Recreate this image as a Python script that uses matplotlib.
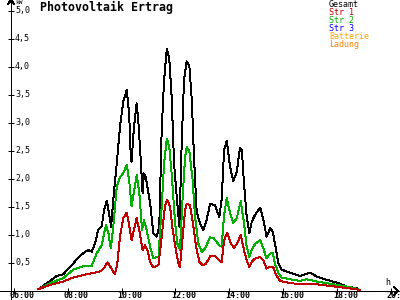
import matplotlib
matplotlib.use("Agg")
import matplotlib.pyplot as plt

# Stunden / Leistung in kW
h_gesamt = [6.90, 7.34, 7.59, 7.83, 8.20, 8.39, 8.64, 8.76, 8.89, 9.01, 9.13, 9.26, 9.35, 9.45,
            9.53, 9.61, 9.69, 9.82, 9.94, 10.06, 10.19, 10.28, 10.34, 10.37, 10.46, 10.56, 10.62,
            10.72, 10.78, 10.83, 10.90, 10.96, 11.06, 11.18, 11.30, 11.40, 11.49, 11.58, 11.68,
            11.77, 11.86, 11.95, 12.05, 12.15, 12.23, 12.32, 12.42, 12.52, 12.61, 12.69, 12.79,
            12.91, 13.04, 13.16, 13.29, 13.47, 13.63, 13.72, 13.81, 13.91, 14.03, 14.15, 14.28,
            14.40, 14.47, 14.55, 14.65, 14.75, 14.84, 14.96, 15.15, 15.27, 15.39, 15.52, 15.62,
            15.70, 15.83, 15.95, 16.26, 16.63, 16.82, 17.00, 17.25, 17.63, 18.00, 18.37, 18.74, 18.86]
kw_gesamt = [0.03, 0.18, 0.27, 0.30, 0.49, 0.60, 0.70, 0.73, 0.70, 0.85, 1.09, 1.15, 1.45, 1.61,
             1.39, 1.15, 1.63, 2.28, 2.93, 3.38, 3.59, 3.17, 2.40, 2.31, 2.93, 3.35, 3.05,
             2.28, 1.74, 2.10, 2.04, 1.86, 1.57, 1.03, 0.97, 1.15, 2.88, 3.77, 4.33,
             4.16, 3.47, 2.28, 1.68, 1.15, 2.58, 3.77, 4.10, 4.01, 3.41, 2.40, 1.42,
             1.21, 1.09, 1.27, 1.55, 1.54, 1.32, 1.63, 2.52, 2.68, 2.22, 1.96, 2.13,
             2.55, 2.52, 1.92, 1.33, 1.03, 1.24, 1.36, 1.49, 1.27, 0.97, 1.12, 1.06,
             0.85, 0.49, 0.38, 0.33, 0.27, 0.30, 0.33, 0.26, 0.20, 0.15, 0.08, 0.05, 0.01]

h_str1 = [6.90, 7.34, 7.83, 8.20, 8.70, 8.95, 9.20, 9.32, 9.47, 9.60, 9.75, 9.84, 9.94, 10.06,
          10.19, 10.29, 10.37, 10.46, 10.56, 10.68, 10.78, 10.87, 10.96, 11.06, 11.18, 11.37,
          11.49, 11.61, 11.70, 11.80, 11.90, 12.02, 12.11, 12.17, 12.27, 12.36, 12.42, 12.54,
          12.67, 12.77, 12.89, 13.01, 13.14, 13.29, 13.47, 13.63, 13.72, 13.81, 13.93, 14.06,
          14.18, 14.30, 14.43, 14.55, 14.65, 14.75, 14.84, 14.96, 15.15, 15.27, 15.39, 15.52,
          15.64, 15.74, 15.89, 16.26, 16.76, 17.25, 17.75, 18.24, 18.74, 18.86]
kw_str1 = [0.03, 0.11, 0.17, 0.24, 0.30, 0.32, 0.35, 0.39, 0.51, 0.42, 0.30, 0.49, 0.97, 1.30,
           1.40, 1.15, 0.91, 1.09, 1.30, 1.03, 0.73, 0.82, 0.73, 0.52, 0.42, 0.46,
           0.97, 1.51, 1.63, 1.51, 1.09, 0.73, 0.49, 0.43, 0.97, 1.45, 1.55, 1.54,
           1.15, 0.79, 0.52, 0.46, 0.49, 0.62, 0.62, 0.55, 0.52, 0.91, 1.04, 0.85,
           0.77, 0.85, 1.00, 0.73, 0.55, 0.43, 0.52, 0.58, 0.61, 0.55, 0.40, 0.43,
           0.42, 0.29, 0.18, 0.14, 0.12, 0.12, 0.09, 0.06, 0.03, 0.01]

h_str2 = [6.90, 7.34, 7.83, 8.20, 8.64, 8.89, 9.07, 9.26, 9.42, 9.51, 9.60, 9.69, 9.82, 9.94,
          10.06, 10.19, 10.28, 10.37, 10.47, 10.56, 10.66, 10.76, 10.83, 10.93, 11.06, 11.18,
          11.37, 11.49, 11.58, 11.68, 11.77, 11.86, 11.99, 12.07, 12.17, 12.27, 12.36, 12.42,
          12.52, 12.64, 12.73, 12.85, 12.98, 13.10, 13.29, 13.43, 13.63, 13.72, 13.81, 13.91,
          14.03, 14.15, 14.28, 14.43, 14.55, 14.65, 14.75, 14.84, 14.96, 15.15, 15.27, 15.39,
          15.52, 15.62, 15.70, 15.83, 15.95, 16.26, 16.63, 16.88, 17.25, 17.63, 18.00, 18.49,
          18.80, 18.86]
kw_str2 = [0.03, 0.14, 0.23, 0.38, 0.45, 0.45, 0.67, 0.82, 1.18, 1.03, 0.76, 1.15, 1.86, 2.04,
           2.10, 2.25, 1.98, 1.51, 1.80, 2.07, 1.74, 1.09, 1.27, 1.09, 0.79, 0.59,
           0.61, 1.51, 2.28, 2.72, 2.58, 2.10, 1.21, 0.85, 0.73, 1.68, 2.40, 2.57,
           2.49, 1.98, 1.33, 0.85, 0.70, 0.76, 0.96, 0.94, 0.82, 0.79, 1.36, 1.66,
           1.39, 1.21, 1.30, 1.60, 1.21, 0.79, 0.61, 0.73, 0.84, 0.91, 0.76, 0.58,
           0.67, 0.68, 0.49, 0.32, 0.24, 0.21, 0.18, 0.21, 0.17, 0.14, 0.11, 0.07,
           0.03, 0.01]

h_null = [6.90, 18.86]
kw_str3 = [0.0, 0.0]
kw_batterie = [0.0, 0.0]
kw_ladung = [0.0, 0.0]

legend_names = ["Gesamt", "Str 1", "Str 2", "Str 3", "Batterie", "Ladung"]
legend_colors = ["#000000", "#C00000", "#00B000", "#0000FF", "#FFA500", "#FF8000"]
y_ticks = [0.5, 1.0, 1.5, 2.0, 2.5, 3.0, 3.5, 4.0, 4.5, 5.0]
x_ticks = [6, 8, 10, 12, 14, 16, 18, 20]

plt.rcParams["lines.antialiased"] = False
mono = "DejaVu Sans Mono"

fig = plt.figure(figsize=(4, 3), dpi=100)
ax = fig.add_axes([0, 0, 1, 1])
px_h = 26.9   # Pixel pro Stunde
px_kw = 56.0  # Pixel pro kW
ax.set_xlim(6 - 14 / px_h, 6 + 386 / px_h)
ax.set_ylim(-9 / px_kw, 291 / px_kw)
x_axis = 6 - 3 / px_h

for s in ["top", "right"]:
    ax.spines[s].set_visible(False)
ax.spines["left"].set_position(("data", x_axis))
ax.spines["bottom"].set_position(("data", 0))
for s in ["left", "bottom"]:
    ax.spines[s].set_linewidth(0.72)
    ax.spines[s].set_antialiased(False)
ax.set_xticks(x_ticks)
ax.set_yticks(y_ticks)
ax.tick_params(direction="inout", length=4.5, width=0.72, labelleft=False, labelbottom=False)

lw = 0.7
ax.plot(h_null, kw_str3, color=legend_colors[3], lw=lw)
ax.plot(h_null, kw_batterie, color=legend_colors[4], lw=lw)
ax.plot(h_gesamt, kw_gesamt, color=legend_colors[0], lw=lw)
ax.plot(h_str2, kw_str2, color=legend_colors[2], lw=lw)
ax.plot(h_str1, kw_str1, color=legend_colors[1], lw=lw)
ax.plot(h_null, kw_ladung, color=legend_colors[5], lw=lw)

# Pfeile an den Achsen
ax.plot([x_axis - 3 / px_h, x_axis, x_axis + 3 / px_h],
        [287 / px_kw, 291 / px_kw, 287 / px_kw], color="black", lw=lw, clip_on=False)
xr = 6 + 384 / px_h
ax.plot([xr - 4 / px_h, xr, xr - 4 / px_h], [4 / px_kw, 0, -4 / px_kw],
        color="black", lw=lw, clip_on=False)

# Beschriftungen
for v in y_ticks:
    ax.text(6 + 1 / px_h, v, f"{v:.1f}".replace(".", ","), fontsize=6, family=mono,
            ha="left", va="center")
for t in x_ticks:
    ax.text(t - 4 / px_h, -5 / px_kw, f"{t:02d}:00", fontsize=6, family=mono,
            fontweight="bold", ha="left", va="center")
ax.text(6 + 1 / px_h, 288 / px_kw, "kW", fontsize=4.5, family=mono, ha="left", va="center")
ax.text(6 + 371 / px_h, 8.5 / px_kw, "h", fontsize=6, family=mono, ha="left", va="center")

fig.text(40 / 400, 1 - 7.5 / 300, "Photovoltaik Ertrag", fontsize=8.4, family=mono,
         fontweight="bold", ha="left", va="center")
for i, (name, col) in enumerate(zip(legend_names, legend_colors)):
    fig.text(329 / 400, 1 - (4.5 + 8 * i) / 300, name, fontsize=6, family=mono,
             color=col, ha="left", va="center")

fig.savefig("out.png", dpi=100)
